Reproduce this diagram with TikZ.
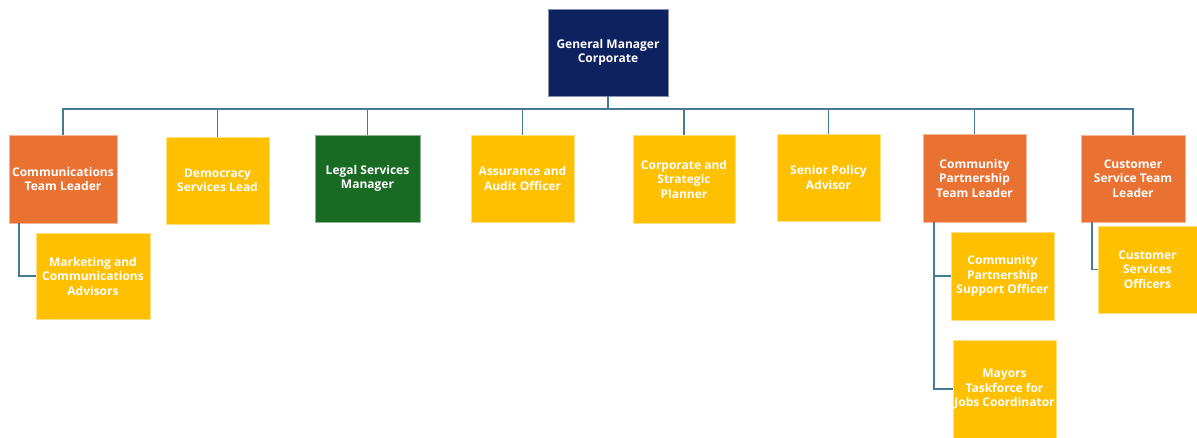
\documentclass[tikz,border=0pt]{standalone}
\usepackage{fontspec}
\setmainfont{Open Sans}
\definecolor{navy}{HTML}{0E2260}
\definecolor{orng}{HTML}{E97132}
\definecolor{yell}{HTML}{FFC000}
\definecolor{grn}{HTML}{196B24}
\definecolor{conn}{HTML}{467A94}
\begin{document}
\begin{tikzpicture}[x=1pt,y=-1pt,
  box/.style={rectangle, inner sep=1pt, align=center, text=white,
    font=\fontsize{12}{14.5}\selectfont\bfseries, minimum width=103pt, minimum height=87pt, line width=0.8pt},
  ybox/.style={box, fill=yell, draw=yell!50!white},
  obox/.style={box, fill=orng, draw=orng!50!white},
  gbox/.style={box, fill=grn, draw=grn!50!white},
  nbox/.style={box, fill=navy, draw=navy!50!white},
  link/.style={draw=conn, line width=1.6pt}]
\useasboundingbox (0,0) rectangle (1197,437);
\fill[white] (0,0) rectangle (1197,437);
% top
\node[nbox, minimum width=120pt] (gm) at (608,52.5) {General Manager\\Corporate};
\coordinate (bus) at (608,109);
% level 1
\node[obox, minimum width=108pt, minimum height=88pt] (ctl) at (63,179) {Communications\\Team Leader};
\node[ybox] (dsl) at (217.5,180.5) {Democracy\\Services Lead};
\node[gbox, minimum width=105pt] (lsm) at (367.5,178.5) {Legal Services\\Manager};
\node[ybox] (aao) at (522.5,178.5) {Assurance and\\Audit Officer};
\node[ybox, minimum width=102pt, minimum height=88pt] (csp) at (684,179) {Corporate and\\Strategic\\Planner};
\node[ybox] (spa) at (828.5,177.5) {Senior Policy\\Advisor};
\node[obox, minimum height=88pt] (cptl) at (974.5,178) {Community\\Partnership\\Team Leader};
\node[obox, minimum width=104pt] (cstl) at (1133,178.5) {Customer\\Service Team\\Leader};
% level 2
\node[ybox, minimum width=114pt, minimum height=86pt] (mca) at (93,276) {Marketing and\\Communications\\Advisors};
\node[ybox, minimum height=88pt] (cpso) at (1002.5,276) {Community\\Partnership\\Support Officer};
\node[ybox, minimum height=98pt] (mtjc) at (1004.5,389) {Mayors\\Taskforce for\\Jobs Coordinator};
\node[ybox, minimum width=99pt] (cso) at (1147.5,269.5) {Customer\\Services\\Officers};
% connectors
\draw[link] (gm.south) -- (bus);
\foreach \n in {ctl,dsl,lsm,aao,csp,spa,cptl,cstl}
  \draw[link] (\n.north) |- (bus);
\draw[link] ([xshift=-44pt]ctl.south) |- (mca.west);
\draw[link] ([xshift=-40.5pt]cptl.south) |- (cpso.west);
\draw[link] ([xshift=-40.5pt]cptl.south) |- (mtjc.west);
\draw[link] ([xshift=-41pt]cstl.south) |- (cso.west);
\end{tikzpicture}
\end{document}
